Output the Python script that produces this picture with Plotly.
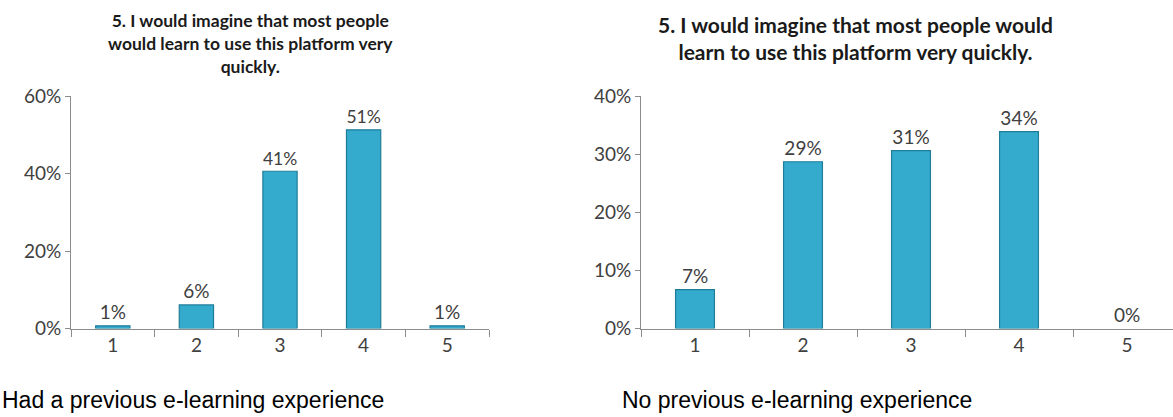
import plotly.graph_objects as go

categories = ["1", "2", "3", "4", "5"]
left_values = [0.7, 6.1, 40.6, 51.3, 0.7]
right_values = [6.7, 28.7, 30.6, 33.9, 0.0]
left_ticks = [0, 20, 40, 60]
right_ticks = [0, 10, 20, 30, 40]
left_title = "5. I would imagine that most people<br>would learn to use this platform very<br>quickly."
right_title = "5. I would imagine that most people would<br>learn to use this platform very quickly."
left_caption = "Had a previous e-learning experience"
right_caption = "No previous e-learning experience"

W, H = 1173, 417


def px(sx):
    return sx / W


def py(sy):
    return 1 - sy / H


bar_color = "#34abcd"
edge_color = "#1f7d99"
txt_color = "#404040"
axis_color = "#8c8c8c"
tick_font = dict(family="Lato, Open Sans, sans-serif", size=19, color=txt_color)

fig = go.Figure()
for vals, xa, ya, w in [(left_values, "x", "y", 0.41), (right_values, "x2", "y2", 0.36)]:
    fig.add_trace(go.Bar(
        x=categories, y=vals, xaxis=xa, yaxis=ya, width=w,
        marker=dict(color=bar_color,
                    line=dict(color=edge_color, width=[1.2 if v > 0 else 0 for v in vals])),
        text=[f"{round(v)}%" for v in vals], textposition="outside",
        textfont=tick_font, cliponaxis=False, showlegend=False,
    ))

common_x = dict(type="category", showline=True, linecolor=axis_color, linewidth=1,
                ticks="outside", tickson="boundaries", ticklen=7, tickcolor=axis_color,
                tickfont=tick_font, showgrid=False, fixedrange=True)
common_y = dict(showline=True, linecolor=axis_color, linewidth=1, ticks="outside",
                ticklen=5, tickcolor=axis_color, tickfont=tick_font, showgrid=False,
                zeroline=False, fixedrange=True, tickmode="array")

# right chart: category step ~108 px, axis runs off the right edge
r_start, r_step = 641, 108
r_end_cat = (W - r_start) / r_step - 0.5

fig.update_layout(
    width=W, height=H, margin=dict(l=0, r=0, t=0, b=0),
    paper_bgcolor="white", plot_bgcolor="white",
    xaxis=dict(domain=[px(71), px(489)], anchor="y", range=[-0.5, 4.5], **common_x),
    xaxis2=dict(domain=[px(r_start), 1.0], anchor="y2", range=[-0.5, r_end_cat], **common_x),
    yaxis=dict(domain=[py(335), py(89)], anchor="x", range=[0, 60], tickvals=left_ticks,
               ticktext=[f"{t}%" for t in left_ticks], **common_y),
    yaxis2=dict(domain=[py(335), py(89)], anchor="x2", range=[0, 40], tickvals=right_ticks,
                ticktext=[f"{t}%" for t in right_ticks], **common_y),
)

fig.add_annotation(text=f"<b>{left_title}</b>", x=px(250), y=1 + 4 / H, xref="paper", yref="paper",
                   xanchor="center", yanchor="top", showarrow=False, align="center",
                   font=dict(family="Lato, Open Sans, sans-serif", size=17.5, color="#1a1a1a"))
fig.add_annotation(text=f"<b>{right_title}</b>", x=px(855), y=1 + 2 / H, xref="paper", yref="paper",
                   xanchor="center", yanchor="top", showarrow=False, align="center",
                   font=dict(family="Lato, Open Sans, sans-serif", size=21, color="#1a1a1a"))

cap_font = dict(family="Liberation Sans Narrow, Arial Narrow, Liberation Sans, sans-serif", size=23, color="black")
fig.add_annotation(text=left_caption, x=0.0, y=py(411), xref="paper", yref="paper",
                   xanchor="left", yanchor="middle", showarrow=False, font=cap_font)
fig.add_annotation(text=right_caption, x=px(620), y=py(411), xref="paper", yref="paper",
                   xanchor="left", yanchor="middle", showarrow=False, font=cap_font)

fig.write_html("out.html", config={"displayModeBar": False},
               post_script="document.body.style.margin='0';document.body.style.overflow='hidden';")
